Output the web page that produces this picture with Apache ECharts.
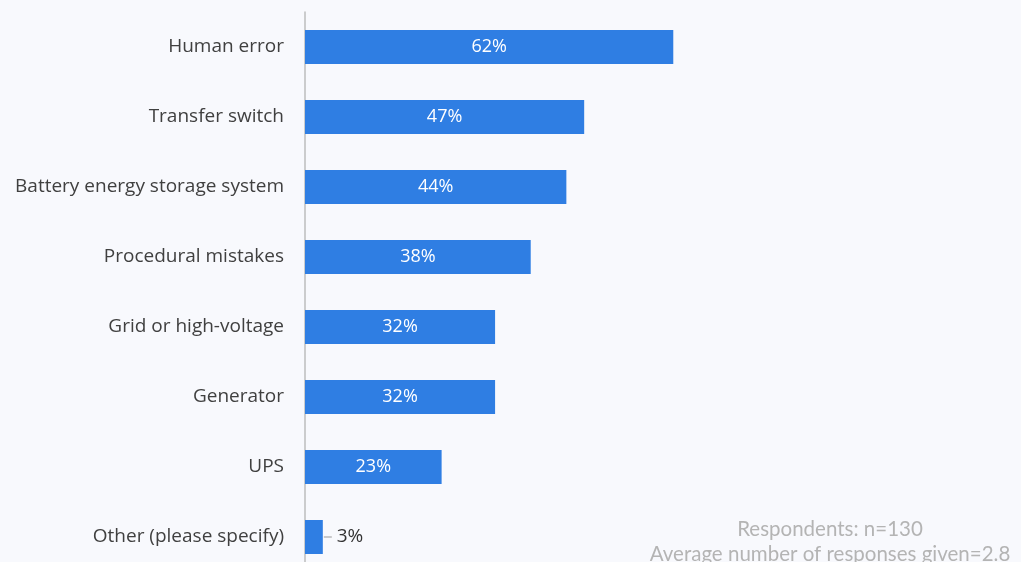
<!DOCTYPE html>
<html>
<head>
<meta charset="utf-8">
<script src="https://cdn.jsdelivr.net/npm/echarts@6/dist/echarts.min.js"></script>
<style>
  html, body { margin: 0; padding: 0; background: #f8f9fd; overflow: hidden; }
  #chart { width: 1021px; height: 575px; }
</style>
</head>
<body>
<div id="chart"></div>
<script>
// Causes of outages, share of respondents (%)
const categories = [
  'Human error',
  'Transfer switch',
  'Battery energy storage system',
  'Procedural mistakes',
  'Grid or high-voltage',
  'Generator',
  'UPS',
  'Other (please specify)'
];
const values = [62, 47, 44, 38, 32, 32, 23, 3];
const footnotes = ['Respondents: n=130', 'Average number of responses given=2.8'];

const barColor = '#2f7ee3';
const smallThreshold = 10;

const seriesData = values.map(v => {
  if (v < smallThreshold) {
    return {
      value: v,
      label: {
        position: 'right',
        distance: 1,
        color: '#333',
        fontSize: 19,
        formatter: p => '{dash|} ' + p.value + '%',
        rich: {
          dash: { width: 8, height: 1, backgroundColor: '#999' }
        }
      }
    };
  }
  return v;
});

const chart = echarts.init(document.getElementById('chart'));
chart.setOption({
  backgroundColor: '#f8f9fd',
  animation: false,
  grid: { left: 305, top: 12, width: 594, height: 560, containLabel: false },
  xAxis: {
    type: 'value', min: 0, max: 100,
    show: false
  },
  yAxis: {
    type: 'category',
    data: categories,
    inverse: true,
    axisLine: { show: true, lineStyle: { color: '#bdbdbd', width: 1.5 } },
    axisTick: { show: false },
    axisLabel: {
      margin: 21,
      fontFamily: 'Open Sans',
      fontSize: 19,
      color: '#404040'
    }
  },
  series: [{
    type: 'bar',
    data: seriesData,
    barWidth: 34,
    itemStyle: { color: barColor },
    label: {
      show: true,
      position: 'inside',
      color: '#ffffff',
      fontFamily: 'Open Sans',
      fontSize: 18,
      formatter: '{c}%'
    }
  }],
  graphic: [
    {
      type: 'text',
      style: {
        x: 830, y: 529, text: footnotes[0], textAlign: 'center', textVerticalAlign: 'middle',
        fill: '#b4b4b4', font: '20.5px Lato'
      }
    },
    {
      type: 'text',
      style: {
        x: 830, y: 554, text: footnotes[1], textAlign: 'center', textVerticalAlign: 'middle',
        fill: '#b4b4b4', font: '20.5px Lato'
      }
    }
  ]
});
</script>
</body>
</html>
